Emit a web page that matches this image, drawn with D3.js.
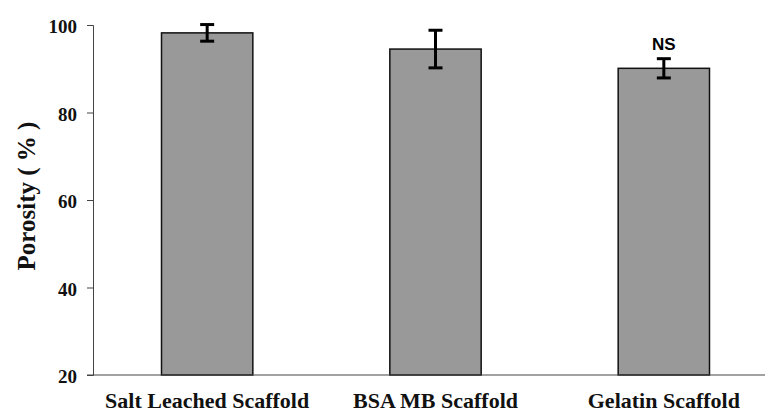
<!DOCTYPE html>
<html>
<head>
<meta charset="utf-8">
<script src="https://cdn.jsdelivr.net/npm/d3@7"></script>
<style>
  body { margin: 0; background: #fff; }
  svg { display: block; }
</style>
</head>
<body>
<div class="canva"></div>
<script>
// data
var categories = ["Salt Leached Scaffold", "BSA MB Scaffold", "Gelatin Scaffold"];
var porosity = [98.2, 94.5, 90.1];
var errors = [1.9, 4.3, 2.2];
var notes = ["", "", "NS"];
var yTicks = [20, 40, 60, 80, 100];

const svg = d3.select(".canva").append("svg")
    .attr("width", 765)
    .attr("height", 414);

const margin = {top: 25, left: 93, bottom: 39};
const plotH = 414 - margin.top - margin.bottom;

var y = d3.scaleLinear()
    .domain([20, 100])
    .range([margin.top + plotH, margin.top]);

// band runs past the right edge, like the original
var x = d3.scaleBand()
    .domain(categories)
    .range([margin.left, 778])
    .paddingInner(0.6)
    .paddingOuter(0.3);

// bars
svg.selectAll(".bar")
    .data(porosity)
    .enter()
    .append("rect")
    .attr("class", "bar")
    .attr("x", (d, i) => x(categories[i]))
    .attr("y", d => y(d))
    .attr("width", x.bandwidth())
    .attr("height", d => y(20) - y(d))
    .attr("fill", "#999999")
    .attr("stroke", "#111")
    .attr("stroke-width", 1.5);

// error bars
var eb = svg.selectAll(".err")
    .data(porosity)
    .enter()
    .append("g")
    .attr("class", "err")
    .attr("stroke", "#000")
    .attr("stroke-width", 3);

eb.append("line")
    .attr("x1", (d, i) => x(categories[i]) + x.bandwidth() / 2)
    .attr("x2", (d, i) => x(categories[i]) + x.bandwidth() / 2)
    .attr("y1", (d, i) => y(d + errors[i]))
    .attr("y2", (d, i) => y(d - errors[i]));

eb.append("line")
    .attr("x1", (d, i) => x(categories[i]) + x.bandwidth() / 2 - 7)
    .attr("x2", (d, i) => x(categories[i]) + x.bandwidth() / 2 + 7)
    .attr("y1", (d, i) => y(d + errors[i]))
    .attr("y2", (d, i) => y(d + errors[i]));

eb.append("line")
    .attr("x1", (d, i) => x(categories[i]) + x.bandwidth() / 2 - 7)
    .attr("x2", (d, i) => x(categories[i]) + x.bandwidth() / 2 + 7)
    .attr("y1", (d, i) => y(d - errors[i]))
    .attr("y2", (d, i) => y(d - errors[i]));

// NS marks
svg.selectAll(".note")
    .data(porosity)
    .enter()
    .append("text")
    .attr("class", "note")
    .attr("x", (d, i) => x(categories[i]) + x.bandwidth() / 2)
    .attr("y", (d, i) => y(d + errors[i]) - 9)
    .attr("text-anchor", "middle")
    .style("font-family", "'Liberation Sans', Arial, sans-serif")
    .style("font-weight", "bold")
    .style("font-size", "17px")
    .text((d, i) => notes[i]);

// y axis
var yAxis = d3.axisLeft(y)
    .tickValues(yTicks)
    .tickSize(6)
    .tickPadding(10);

var gy = svg.append("g")
    .attr("transform", `translate(${margin.left}, 0)`)
    .call(yAxis);
gy.select(".domain").attr("stroke", "#444");
gy.selectAll(".tick line").attr("stroke", "#444");
gy.selectAll(".tick text")
    .attr("dy", "0.4em")
    .style("font-family", "'Liberation Serif', 'Times New Roman', serif")
    .style("font-weight", "bold")
    .style("font-size", "19px")
    .attr("fill", "#111");

// x axis
var xAxis = d3.axisBottom(x)
    .tickSize(0)
    .tickPadding(17);

var gx = svg.append("g")
    .attr("transform", `translate(0, ${y(20)})`)
    .call(xAxis);
gx.select(".domain").attr("stroke", "#444").attr("d", `M${margin.left - 6},0H778`);
gx.selectAll(".tick text")
    .attr("dy", "0.71em")
    .style("font-family", "'Liberation Serif', 'Times New Roman', serif")
    .style("font-weight", "bold")
    .style("font-size", "22px")
    .attr("fill", "#111");

// y label
svg.append("text")
    .attr("transform", "translate(35, 196) rotate(-90)")
    .attr("text-anchor", "middle")
    .style("font-family", "'Liberation Serif', 'Times New Roman', serif")
    .style("font-weight", "bold")
    .style("font-size", "25px")
    .attr("fill", "#111")
    .text("Porosity ( % )");
</script>
</body>
</html>
